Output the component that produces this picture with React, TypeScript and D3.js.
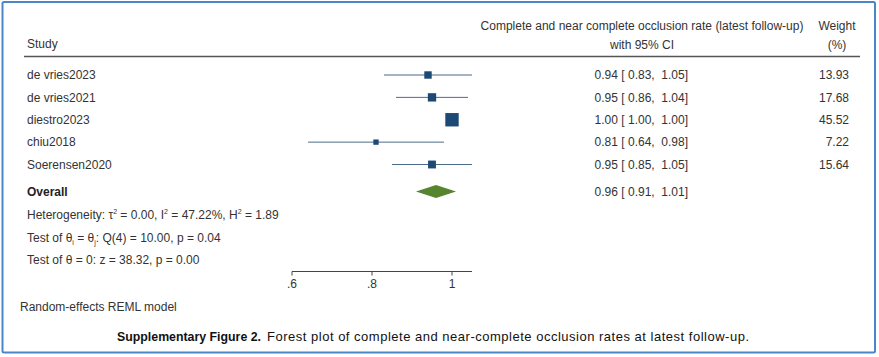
import React from "react";
import * as d3 from "d3";

const studies = ["de vries2023", "de vries2021", "diestro2023", "chiu2018", "Soerensen2020"];
const estimates = [0.94, 0.95, 1.0, 0.81, 0.95];
const lowerCI = [0.83, 0.86, 1.0, 0.64, 0.85];
const upperCI = [1.05, 1.04, 1.0, 0.98, 1.05];
const weights = [13.93, 17.68, 45.52, 7.22, 15.64];
const overall = { est: 0.96, lo: 0.91, hi: 1.01 };
const ticks = [0.6, 0.8, 1.0];
const tickLabels = [".6", ".8", "1"];

const fmt = d3.format(".2f");
const W = 879;
const H = 357;
const FONT = "'Liberation Sans', Arial, Helvetica, sans-serif";
const TXT = "#333";

export default function App() {
  const x = d3.scaleLinear().domain([0.6, 1.0]).range([292, 452]);
  const y = d3.scalePoint<string>().domain(studies).range([75, 164.5]);
  const side = d3.scaleSqrt().domain([0, 45.52]).range([0, 13.4]);
  const overallY = 191.5;
  const axisY = 271.5;
  const ciRight = 688;
  const wRight = 849;
  const labelX = 27;

  const diamond = d3.line<[number, number]>()([
    [x(overall.lo), overallY],
    [x(overall.est), overallY - 6.5],
    [x(overall.hi), overallY],
    [x(overall.est), overallY + 6.5],
  ]) + "Z";

  return (
    <svg
      width={W}
      height={H}
      style={{ position: "absolute", left: 0, top: 0, background: "#fff" }}
      fontFamily={FONT}
      fontSize={12}
    >
      <rect x={0} y={0} width={W} height={H} fill="#fff" />
      <rect x={2.5} y={2} width={872.5} height={350.5} fill="none" stroke="#4a86c8" strokeWidth={2} rx={1.5} />

      {/* Header */}
      <text x={labelX} y={44} dy="0.35em" fill={TXT}>Study</text>
      <text x={642} y={26} dy="0.35em" textAnchor="middle" fill={TXT}>
        Complete and near complete occlusion rate (latest follow-up)
      </text>
      <text x={642} y={45} dy="0.35em" textAnchor="middle" fill={TXT}>with 95% CI</text>
      <text x={837} y={26} dy="0.35em" textAnchor="middle" fill={TXT}>Weight</text>
      <text x={837} y={45} dy="0.35em" textAnchor="middle" fill={TXT}>(%)</text>
      <line x1={24} x2={860} y1={56.5} y2={56.5} stroke="#555" strokeWidth={1.3} />

      {/* Studies */}
      {studies.map((s, i) => {
        const yy = y(s)!;
        const sz = side(weights[i]);
        return (
          <g key={s}>
            <text x={labelX} y={yy} dy="0.35em" fill={TXT}>{s}</text>
            {lowerCI[i] !== upperCI[i] && (
              <line x1={x(lowerCI[i])} x2={x(upperCI[i])} y1={yy} y2={yy} stroke="#4d6b88" strokeWidth={1} />
            )}
            <rect x={x(estimates[i]) - sz / 2} y={yy - sz / 2} width={sz} height={sz} fill="#1d4a75" />
            <text x={ciRight} y={yy} dy="0.35em" textAnchor="end" fill={TXT} xmlSpace="preserve">
              {`${fmt(estimates[i])} [ ${fmt(lowerCI[i])},  ${fmt(upperCI[i])}]`}
            </text>
            <text x={wRight} y={yy} dy="0.35em" textAnchor="end" fill={TXT}>{fmt(weights[i])}</text>
          </g>
        );
      })}

      {/* Overall */}
      <text x={labelX} y={overallY} dy="0.35em" fontWeight="bold" fill="#222">Overall</text>
      <path d={diamond} fill="#55852f" />
      <text x={ciRight} y={overallY} dy="0.35em" textAnchor="end" fill={TXT} xmlSpace="preserve">
        {`${fmt(overall.est)} [ ${fmt(overall.lo)},  ${fmt(overall.hi)}]`}
      </text>

      {/* Stats */}
      <text x={labelX} y={215} dy="0.35em" fill={TXT}>
        Heterogeneity: τ<tspan dy="-5" fontSize={7}>2</tspan>
        <tspan dy="5"> = 0.00, I</tspan>
        <tspan dy="-5" fontSize={7}>2</tspan>
        <tspan dy="5"> = 47.22%, H</tspan>
        <tspan dy="-5" fontSize={7}>2</tspan>
        <tspan dy="5"> = 1.89</tspan>
      </text>
      <text x={labelX} y={237.5} dy="0.35em" fill={TXT}>
        Test of θ<tspan dy="3" fontSize={7}>i</tspan>
        <tspan dy="-3"> = θ</tspan>
        <tspan dy="3" fontSize={7}>j</tspan>
        <tspan dy="-3">: Q(4) = 10.00, p = 0.04</tspan>
      </text>
      <text x={labelX} y={259.5} dy="0.35em" fill={TXT}>Test of θ = 0: z = 38.32, p = 0.00</text>

      {/* Axis */}
      <line x1={x(0.6)} x2={x(1.05)} y1={axisY} y2={axisY} stroke="#444" strokeWidth={1} />
      {ticks.map((t, i) => (
        <g key={t}>
          <line x1={x(t)} x2={x(t)} y1={axisY} y2={axisY + 4} stroke="#444" strokeWidth={1} />
          <text x={x(t)} y={283.5} dy="0.35em" textAnchor="middle" fill={TXT}>{tickLabels[i]}</text>
        </g>
      ))}

      <text x={20} y={307} dy="0.35em" fill={TXT}>Random-effects REML model</text>

      {/* Caption */}
      <text x={117} y={336.5} dy="0.35em" fontSize={13} fill="#111">
        <tspan fontFamily="'Liberation Sans Narrow', 'Arial Narrow', sans-serif" fontWeight="bold" textLength={144} lengthAdjust="spacingAndGlyphs">
          Supplementary Figure 2.
        </tspan>
      </text>
      <text x={267} y={336.5} dy="0.35em" fontSize={13} fill="#111" textLength={482} lengthAdjust="spacing">
        Forest plot of complete and near-complete occlusion rates at latest follow-up.
      </text>
    </svg>
  );
}
